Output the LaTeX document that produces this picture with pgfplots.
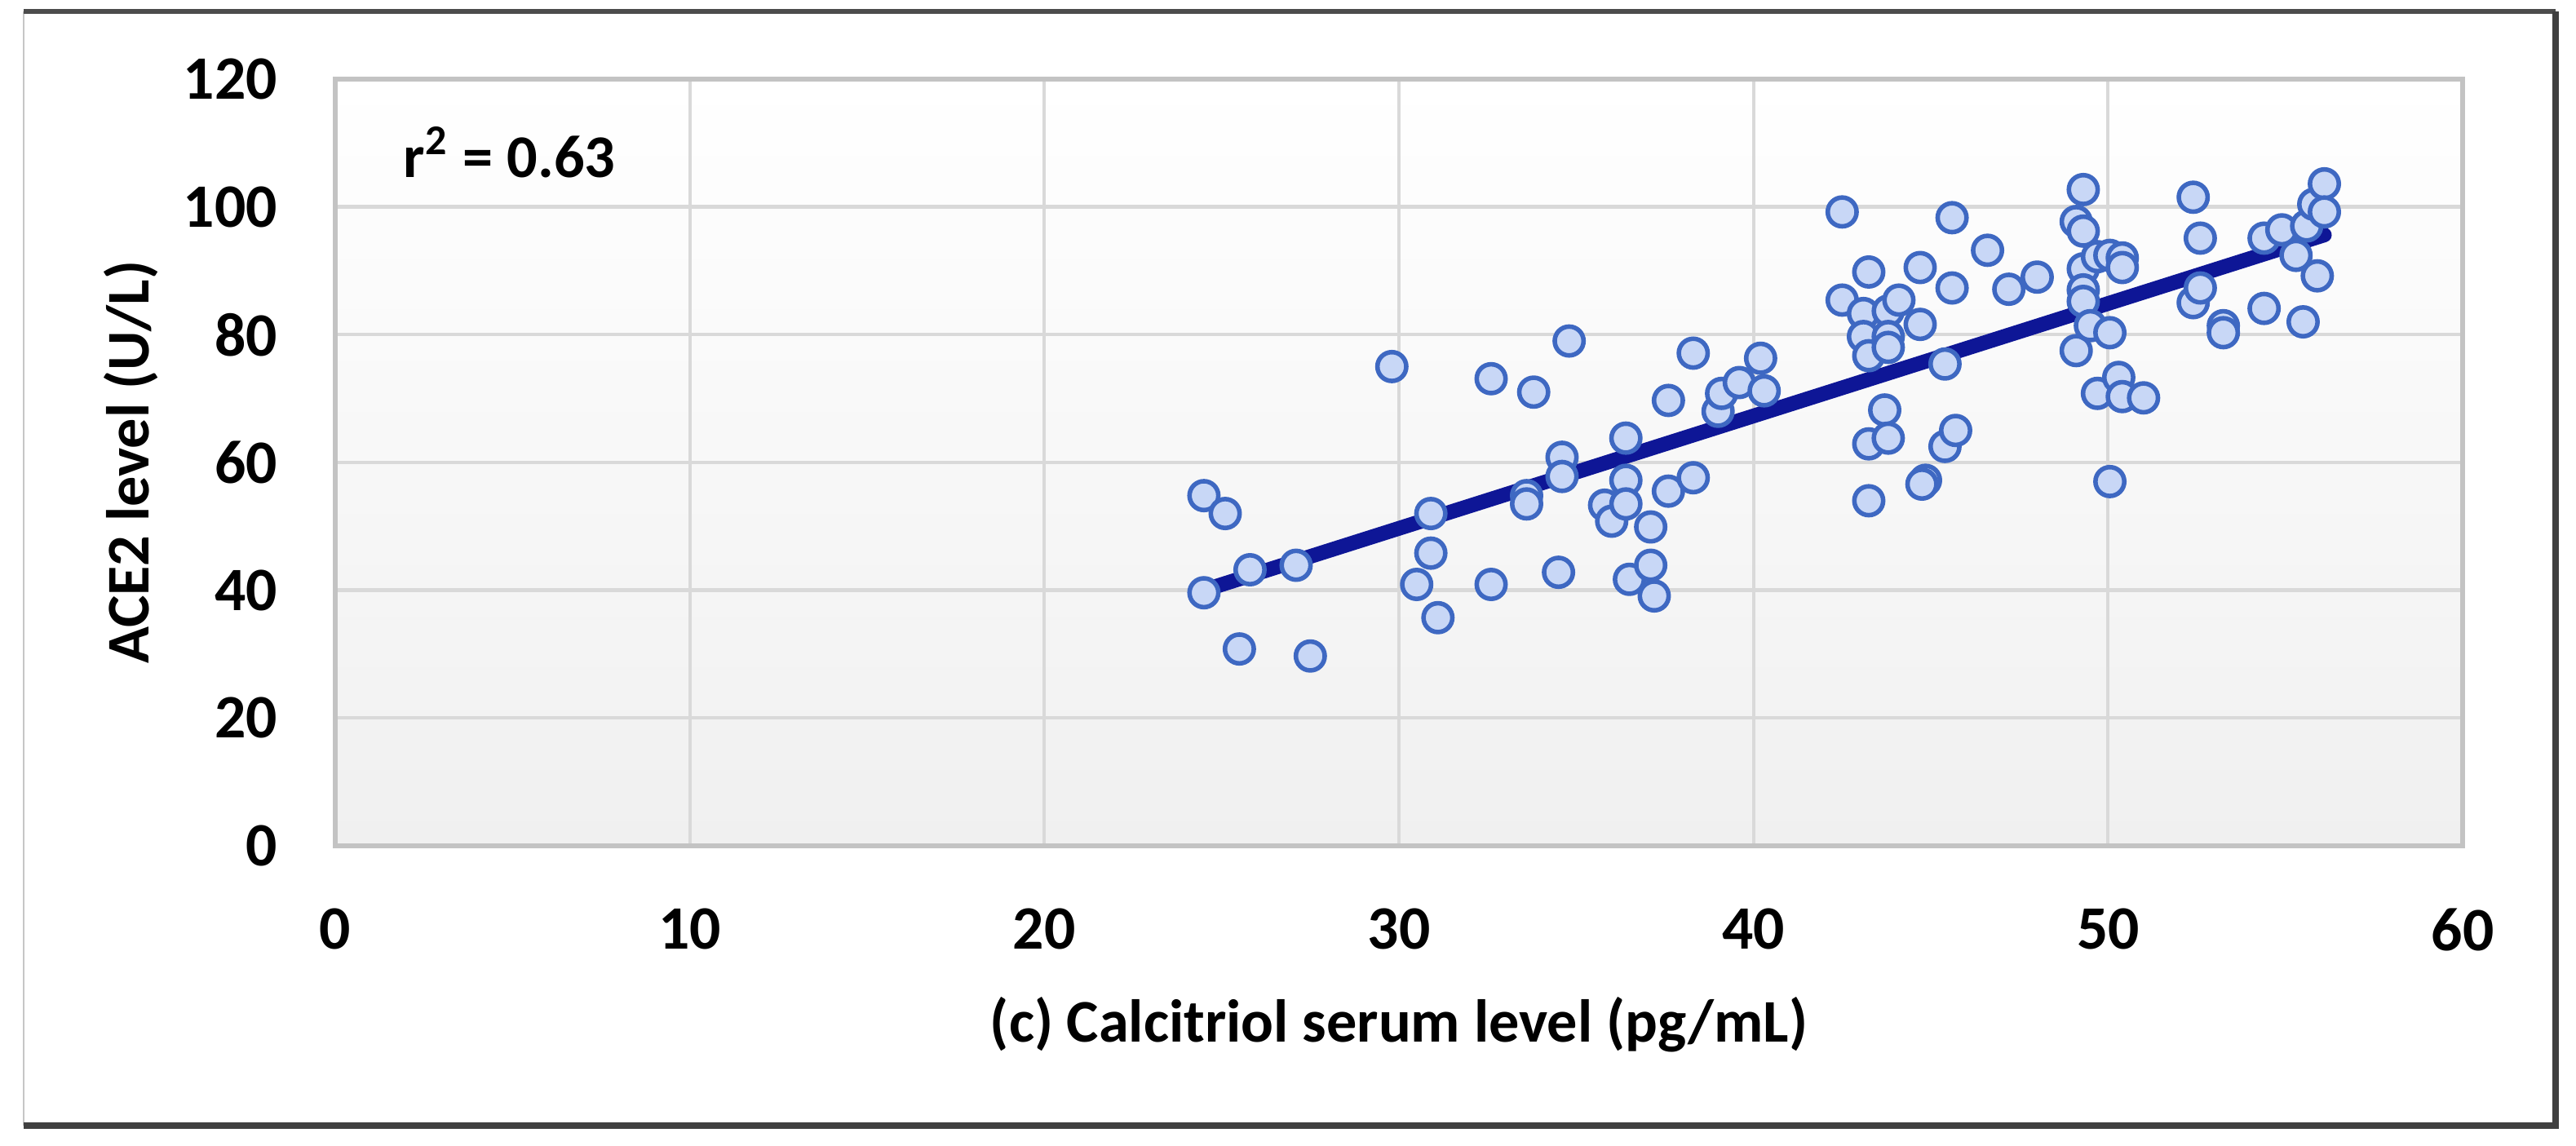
\documentclass[border=0pt]{standalone}
\usepackage{fontspec}
\setmainfont{Carlito}
\usepackage{pgfplots}
\usepackage{pgfplotstable}
\pgfplotsset{compat=1.18}

\definecolor{gridgray}{RGB}{217,217,217}
\definecolor{boxgray}{RGB}{195,195,195}
\definecolor{markedge}{RGB}{62,104,194}
\definecolor{markfill}{RGB}{200,215,246}
\definecolor{trendblue}{RGB}{14,22,150}
\definecolor{bgbottom}{RGB}{240,240,240}

% calcitriol (pg/mL) vs ACE2 (U/L)
\pgfplotstableread{
x y
24.5 54.8
24.5 39.6
25.1 52.0
25.5 30.8
25.8 43.2
27.1 43.9
27.5 29.7
29.8 75.0
30.5 40.9
30.9 52.0
30.9 45.8
31.1 35.7
32.6 73.1
32.6 40.9
33.6 54.8
33.6 53.5
33.8 71.0
34.5 42.8
34.6 60.8
34.6 57.8
34.8 79.0
35.8 53.3
36.0 50.8
36.4 63.8
36.4 57.2
36.4 53.5
36.5 41.7
37.1 49.9
37.1 43.9
37.2 39.1
37.6 69.7
37.6 55.5
38.3 77.1
38.3 57.6
39.0 68.0
39.1 70.8
39.6 72.5
40.2 76.3
40.3 71.2
42.5 99.2
42.5 85.4
43.1 83.3
43.1 79.7
43.25 89.8
43.25 76.7
43.25 62.9
43.25 54.0
43.7 68.2
43.8 83.7
43.8 79.7
43.8 78.0
43.8 63.8
44.1 85.4
44.7 90.5
44.7 81.6
44.85 57.2
44.75 56.6
45.4 75.4
45.4 62.5
45.6 98.3
45.6 87.3
45.7 65.0
46.6 93.2
47.2 87.1
48.0 89.0
49.1 97.7
49.1 77.5
49.3 102.7
49.3 96.2
49.3 90.3
49.3 87.0
49.3 85.2
49.5 81.4
49.7 92.2
49.7 70.8
50.05 92.4
50.05 80.3
50.05 57.0
50.3 73.3
50.4 92.0
50.4 90.5
50.4 70.3
51.0 70.1
52.4 101.5
52.4 85.0
52.6 95.1
52.6 87.3
53.25 81.4
53.25 80.3
54.4 95.1
54.4 84.1
54.9 96.4
55.3 92.4
55.5 82.0
55.6 97.0
55.8 100.4
55.9 89.2
56.1 103.6
56.1 99.2
}\calcdata

\begin{document}
\begin{tikzpicture}
\useasboundingbox (0,0) rectangle (16cm,7.118cm);
% outer frame
\draw[gray!45, line width=0.4pt] (0.147,0.127) -- (0.147,7.047);
\draw[black!70, line width=0.8pt] (0.147,7.047) -- (15.873,7.047);
\draw[black!75, line width=1.1pt] (15.873,7.047) -- (15.873,0.127) -- (0.147,0.127);

\begin{axis}[
    at={(2.082cm,1.8645cm)}, anchor=south west,
    scale only axis, width=13.214cm, height=4.7625cm,
    xmin=0, xmax=60, ymin=0, ymax=120,
    xtick={0,10,...,60}, ytick={0,20,...,120},
    grid=major,
    major grid style={gridgray, line width=0.6pt},
    axis line style={boxgray, line width=0.8pt},
    major tick length=0pt,
    axis background/.style={top color=white, bottom color=bgbottom},
    /pgf/number format/assume math mode=true,
    tick label style={font=\fontsize{10.9}{13}\selectfont\bfseries},
    yticklabel style={xshift=-0.236cm},
    xticklabel style={yshift=-0.264cm},
    label style={font=\fontsize{10.7}{12.8}\selectfont\bfseries},
    xlabel={(c) Calcitriol serum level (pg/mL)},
    ylabel={ACE2 level (U/L)},
    xlabel style={at={(axis description cs:0.5,-0.233)}, anchor=center},
    ylabel style={at={(axis description cs:-0.096,0.5)}, anchor=center},
]
\addplot[only marks, mark=*, mark size=2.55pt,
    mark options={draw=markedge, fill=markfill, line width=0.8pt}]
    table[x=x, y=y] {\calcdata};
\addplot[trendblue, line width=2.6pt, line cap=round]
    coordinates {(24.5,40.0) (56.1,95.6)};
\node[anchor=west, inner sep=0pt, font=\fontsize{10.7}{12.8}\selectfont\bfseries]
    at (axis cs:1.9,108.5) {r\textsuperscript{2} = 0.63};
\end{axis}
\end{tikzpicture}
\end{document}
